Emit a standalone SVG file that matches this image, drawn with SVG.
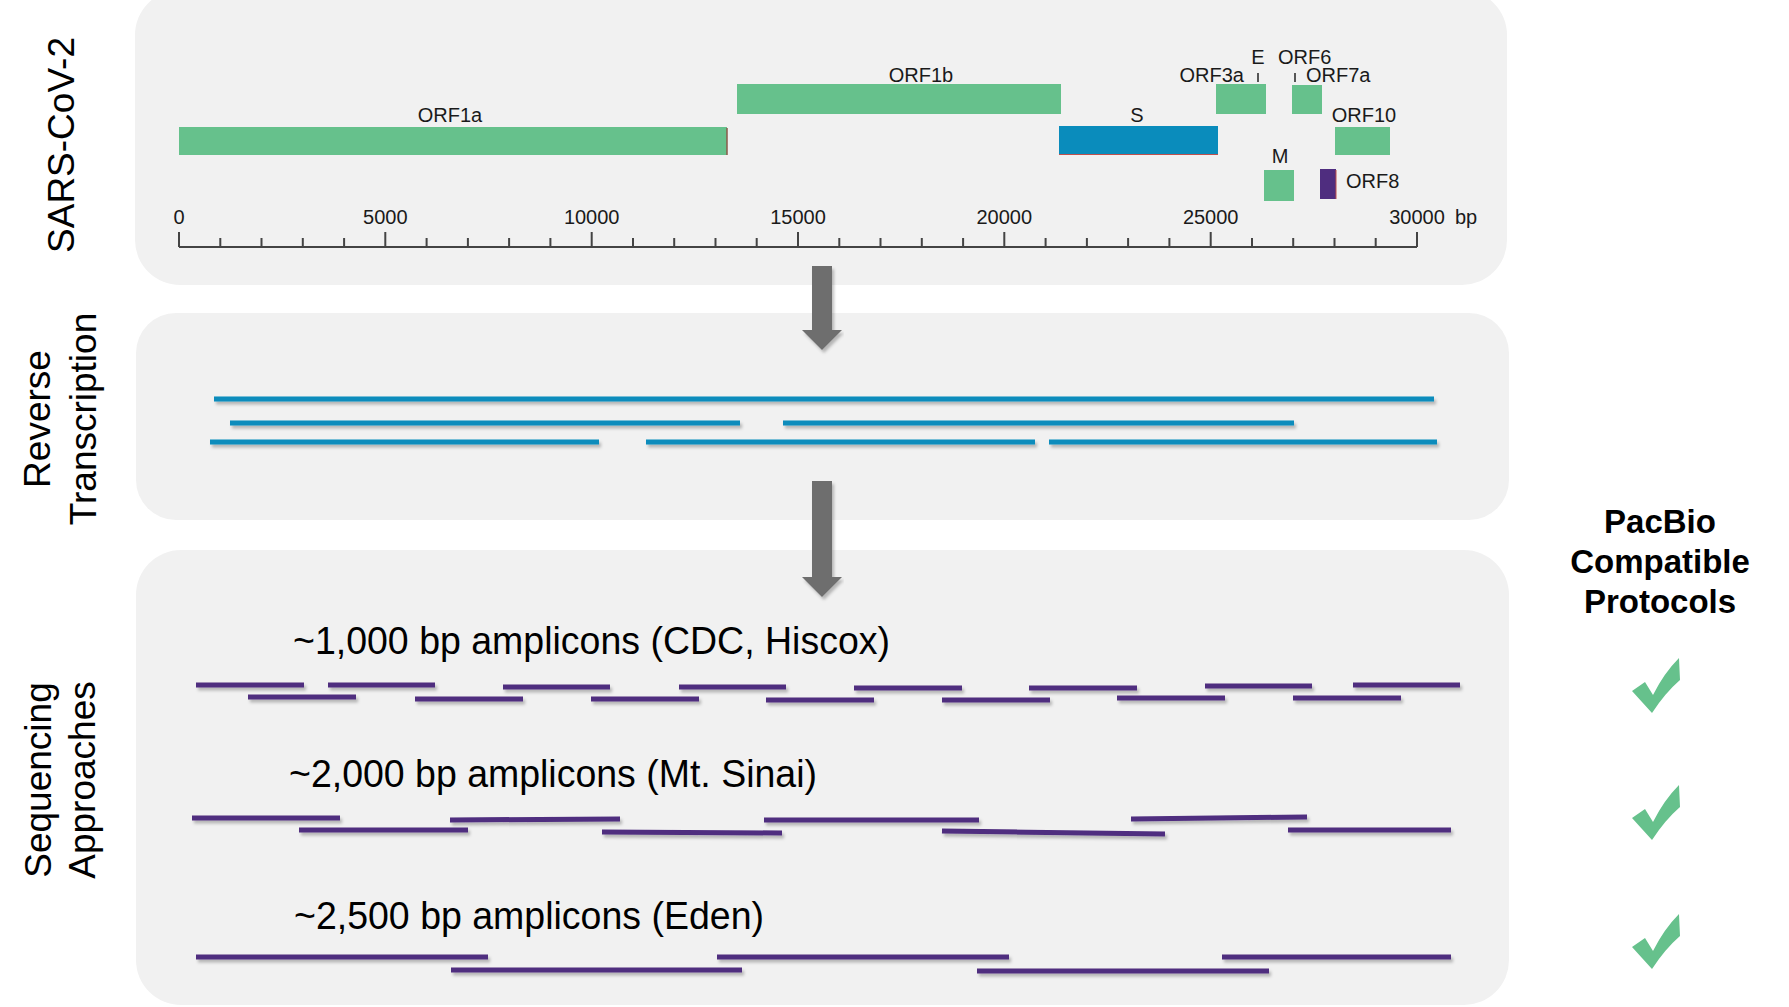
<svg xmlns="http://www.w3.org/2000/svg" width="1789" height="1007" viewBox="0 0 1789 1007">
<defs>
<filter id="sh" x="-5%" y="-100%" width="110%" height="400%">
<feDropShadow dx="2" dy="3" stdDeviation="1.5" flood-color="#000" flood-opacity="0.25"/>
</filter>
<path id="chk" d="M0,34 L13,25 L21,38 Q32,16 47,1 L48,23 Q33,36 20,56 Z"/>
</defs>
<style>
.panel{fill:#f1f1f1}
.side{font-family:"Liberation Sans",Arial,sans-serif;font-size:37px;fill:#000;text-anchor:middle}
.lbl{font-family:"Liberation Sans",Arial,sans-serif;font-size:20px;fill:#1a1a1a}
.mid{text-anchor:middle}
.end{text-anchor:end}
.g{fill:#66c18c}
.axis{stroke:#444;stroke-width:2;fill:none}
.rt{stroke:#0a8cbc;stroke-width:5}
.amp{stroke:#4f2d7f;stroke-width:5}
.head{font-family:"Liberation Sans",Arial,sans-serif;font-size:38.6px;fill:#000}
.pb{font-family:"Liberation Sans",Arial,sans-serif;font-size:33px;font-weight:bold;fill:#000;text-anchor:middle}
.arr{fill:#6e6e6e}
</style>

<g id="panel-genome">
<rect class="panel" x="135" y="-10" width="1372" height="295" rx="45"/>
<text class="side" transform="translate(74,145) rotate(-90)">SARS-CoV-2</text>
<g id="orf1a"><rect class="g" x="179" y="127" width="548" height="28"/><line x1="727" y1="128" x2="727" y2="155" stroke="#8a5a4a" stroke-width="1.5"/><text class="lbl mid" x="450" y="122">ORF1a</text></g>
<g id="orf1b"><rect class="g" x="737" y="84" width="324" height="30"/><text class="lbl mid" x="921" y="82">ORF1b</text></g>
<g id="s"><rect x="1059" y="126" width="159" height="28" fill="#0a8cbc"/><line x1="1059" y1="154.5" x2="1218" y2="154.5" stroke="#c0504d" stroke-width="1"/><text class="lbl mid" x="1137" y="122">S</text></g>
<g id="orf3a"><rect class="g" x="1216" y="84" width="50" height="30"/><text class="lbl end" x="1244" y="82">ORF3a</text></g>
<g id="e"><line x1="1258" y1="73" x2="1258" y2="82" stroke="#222" stroke-width="1.5"/><text class="lbl mid" x="1258" y="64">E</text></g>
<g id="orf6"><line x1="1295" y1="73" x2="1295" y2="82" stroke="#222" stroke-width="1.5"/><text class="lbl" x="1278" y="64">ORF6</text></g>
<g id="orf7a"><rect class="g" x="1292" y="85" width="30" height="29"/><text class="lbl" x="1306" y="82">ORF7a</text></g>
<g id="orf10"><rect class="g" x="1335" y="127" width="55" height="28"/><text class="lbl mid" x="1364" y="122">ORF10</text></g>
<g id="m"><rect class="g" x="1264" y="170" width="30" height="31"/><text class="lbl mid" x="1280" y="163">M</text></g>
<g id="orf8"><rect x="1320" y="169" width="16" height="30" fill="#4f2d7f"/><line x1="1336" y1="170" x2="1336" y2="199" stroke="#c0504d" stroke-width="1"/><text class="lbl" x="1346" y="188">ORF8</text></g>
<g id="axis">
<path class="axis" d="M179,247 H1417 M179,232 V247 M385.3,232 V247 M591.7,232 V247 M798,232 V247 M1004.3,232 V247 M1210.7,232 V247 M1417,232 V247
M220.3,238 V247 M261.5,238 V247 M302.8,238 V247 M344.1,238 V247
M426.6,238 V247 M467.9,238 V247 M509.1,238 V247 M550.4,238 V247
M633,238 V247 M674.2,238 V247 M715.5,238 V247 M756.7,238 V247
M839.3,238 V247 M880.5,238 V247 M921.8,238 V247 M963.1,238 V247
M1045.6,238 V247 M1086.9,238 V247 M1128.1,238 V247 M1169.4,238 V247
M1252,238 V247 M1293.2,238 V247 M1334.5,238 V247 M1375.7,238 V247"/>
<text class="lbl mid" x="179" y="224">0</text>
<text class="lbl mid" x="385.3" y="224">5000</text>
<text class="lbl mid" x="591.7" y="224">10000</text>
<text class="lbl mid" x="798" y="224">15000</text>
<text class="lbl mid" x="1004.3" y="224">20000</text>
<text class="lbl mid" x="1210.7" y="224">25000</text>
<text class="lbl mid" x="1417" y="224">30000</text>
<text class="lbl" x="1455" y="224">bp</text>
</g>
</g>

<g id="panel-rt">
<rect class="panel" x="136" y="313" width="1373" height="207" rx="40"/>
<text class="side" transform="translate(50,419) rotate(-90)">Reverse</text>
<text class="side" transform="translate(96,419) rotate(-90)">Transcription</text>
<g filter="url(#sh)">
<line class="rt" x1="214" y1="399" x2="1434" y2="399"/>
<line class="rt" x1="230" y1="423" x2="740" y2="423"/>
<line class="rt" x1="783" y1="423" x2="1294" y2="423"/>
<line class="rt" x1="210" y1="442" x2="599" y2="442"/>
<line class="rt" x1="646" y1="442" x2="1035" y2="442"/>
<line class="rt" x1="1049" y1="442" x2="1437" y2="442"/>
</g>
</g>

<g id="panel-seq">
<rect class="panel" x="136" y="550" width="1373" height="455" rx="45"/>
<text class="side" transform="translate(51,780) rotate(-90)">Sequencing</text>
<text class="side" transform="translate(95,780) rotate(-90)">Approaches</text>
<g id="row1">
<text class="head" x="293" y="654" textLength="597" lengthAdjust="spacingAndGlyphs">~1,000 bp amplicons (CDC, Hiscox)</text>
<g filter="url(#sh)">
<line class="amp" x1="196" y1="685" x2="304" y2="685"/>
<line class="amp" x1="328" y1="685" x2="435" y2="685"/>
<line class="amp" x1="503" y1="687" x2="610" y2="687"/>
<line class="amp" x1="679" y1="687" x2="786" y2="687"/>
<line class="amp" x1="854" y1="688" x2="962" y2="688"/>
<line class="amp" x1="1029" y1="688" x2="1137" y2="688"/>
<line class="amp" x1="1205" y1="686" x2="1312" y2="686"/>
<line class="amp" x1="1353" y1="685" x2="1460" y2="685"/>
<line class="amp" x1="248" y1="697" x2="356" y2="697"/>
<line class="amp" x1="415" y1="699" x2="523" y2="699"/>
<line class="amp" x1="591" y1="699" x2="699" y2="699"/>
<line class="amp" x1="766" y1="700" x2="874" y2="700"/>
<line class="amp" x1="942" y1="700" x2="1050" y2="700"/>
<line class="amp" x1="1117" y1="698" x2="1225" y2="698"/>
<line class="amp" x1="1293" y1="698" x2="1401" y2="698"/>
</g>
</g>
<g id="row2">
<text class="head" x="289" y="787" textLength="528" lengthAdjust="spacingAndGlyphs">~2,000 bp amplicons (Mt. Sinai)</text>
<g filter="url(#sh)">
<line class="amp" x1="192" y1="818" x2="340" y2="818"/>
<line class="amp" x1="450" y1="820" x2="620" y2="819"/>
<line class="amp" x1="764" y1="820" x2="979" y2="820"/>
<line class="amp" x1="1131" y1="819" x2="1307" y2="817"/>
<line class="amp" x1="299" y1="830" x2="468" y2="830"/>
<line class="amp" x1="602" y1="832" x2="782" y2="833"/>
<line class="amp" x1="942" y1="831" x2="1165" y2="834"/>
<line class="amp" x1="1288" y1="830" x2="1451" y2="830"/>
</g>
</g>
<g id="row3">
<text class="head" x="294" y="929" textLength="470" lengthAdjust="spacingAndGlyphs">~2,500 bp amplicons (Eden)</text>
<g filter="url(#sh)">
<line class="amp" x1="196" y1="957" x2="488" y2="957"/>
<line class="amp" x1="717" y1="957" x2="1009" y2="957"/>
<line class="amp" x1="1222" y1="957" x2="1451" y2="957"/>
<line class="amp" x1="451" y1="970" x2="742" y2="970"/>
<line class="amp" x1="977" y1="971" x2="1269" y2="971"/>
</g>
</g>
</g>

<g id="pacbio">
<text class="pb" x="1660" y="533">PacBio</text>
<text class="pb" x="1660" y="573">Compatible</text>
<text class="pb" x="1660" y="613">Protocols</text>
<use href="#chk" class="g" x="1632" y="657"/>
<use href="#chk" class="g" x="1632" y="784"/>
<use href="#chk" class="g" x="1632" y="913"/>
</g>

<g id="connectors">
<g filter="url(#sh)">
<path class="arr" d="M812,266 H832 V330 H842 L822,350 L802,330 H812 Z"/>
<path class="arr" d="M812,481 H832 V577 H842 L822,597 L802,577 H812 Z"/>
</g>
</g>
</svg>
